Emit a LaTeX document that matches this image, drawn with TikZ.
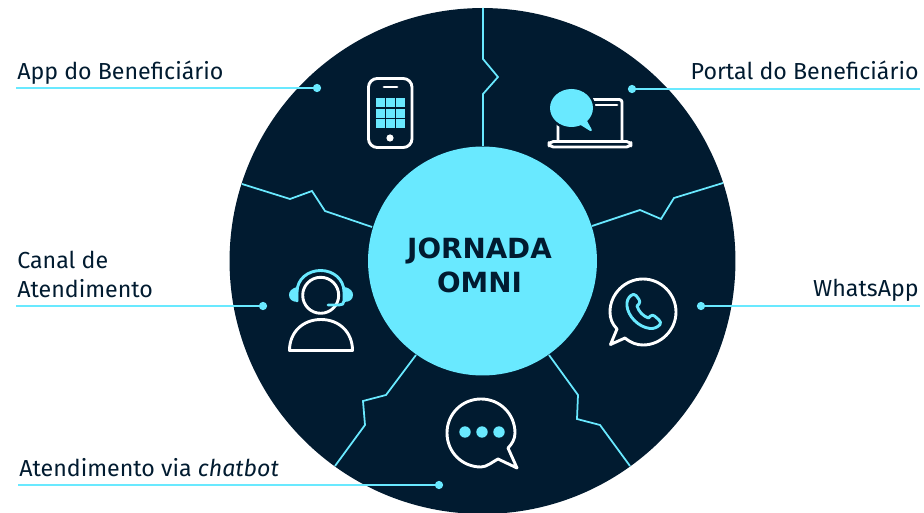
\documentclass[tikz,border=0pt]{standalone}
\usepackage{fontspec}
\setmainfont{Fira Sans}
\newfontfamily\hubfont{DejaVu Sans}
\definecolor{navy}{HTML}{011B30}
\definecolor{cyano}{HTML}{69E9FF}
\tikzset{
  seam/.style={draw=cyano, line width=1pt, line join=miter},
  leader/.style={draw=cyano, line width=1.05pt},
  dot/.style={circle, fill=cyano, inner sep=0pt, minimum size=4.7pt},
  tag/.style={font=\fontsize{13.2}{16.5}\selectfont, text=navy, inner sep=0pt, align=left},
  iconw/.style={draw=white, line width=1.65pt, line join=round, line cap=round},
  iconc/.style={draw=cyano, line width=1.65pt, line join=round, line cap=round},
}
\begin{document}
\begin{tikzpicture}[x=0.02cm, y=-0.02cm]
      \useasboundingbox (0,0) rectangle (924,513);

      % discs
      \node (disc) at (482.5,261) [circle, fill=navy, inner sep=0pt, minimum size=10.12cm] {};
      \node (hub) at (482.5,261) [circle, fill=cyano, inner sep=0pt, minimum size=4.58cm] {};
      \node (hubtext) at (479.5,265.5) [font=\hubfont\fontsize{15.8}{19.8}\selectfont\bfseries,
        text=navy, align=center, inner sep=0pt] {JORNADA\\OMNI};

      % seams
      \coordinate (t1) at (483,8);
      \coordinate (l1) at (242,184);
      \coordinate (r1) at (723,183);
      \coordinate (bl1) at (335,466);
      \coordinate (br1) at (630,466);
      \coordinate (t2) at (483,146);
      \coordinate (l2) at (372,227);
      \coordinate (r2) at (592,226);
      \coordinate (bl2) at (416,355);
      \coordinate (br2) at (549,355);
      \draw[seam] (t1) -- (483,59) -- (498,77) -- (483,94) -- (t2);
      \draw[seam] (l1) -- (290,199) -- (312,191) -- (325,211) -- (l2);
      \draw[seam] (r1) -- (674,198) -- (661,219) -- (640,210) -- (r2);
      \draw[seam] (bl1) -- (365,425) -- (363,401) -- (386,395) -- (bl2);
      \draw[seam] (br1) -- (600,425) -- (577,419) -- (578,395) -- (br2);

      % labels
      \node[tag, anchor=base west] (app) at (17,79.5) {App do Beneficiário};
      \node[tag, anchor=base east] (portal) at (919,79.5) {Portal do Beneficiário};
      \node[tag, anchor=base west] (canal) at (17,268.5) {Canal de};
      \node[tag, anchor=base west] (atend) at (17,297.5) {Atendimento};
      \node[tag, anchor=base east] (whats) at (919,297) {WhatsApp};
      \node[tag, anchor=base west] (bot) at (19,476.5) {Atendimento via \emph{chatbot}};

      % leaders
      \node[dot] (d1) at (317,88) {};
      \node[dot] (d2) at (632,89) {};
      \node[dot] (d3) at (263,306) {};
      \node[dot] (d4) at (701,306) {};
      \node[dot] (d5) at (439,485) {};
      \coordinate (e1) at (16,88);
      \coordinate (e2) at (920,89);
      \coordinate (e3) at (16,306);
      \coordinate (e4) at (920,306);
      \coordinate (e5) at (18,485);
      \draw[leader] (e1) -- (d1);
      \draw[leader] (e2) -- (d2);
      \draw[leader] (e3) -- (d3);
      \draw[leader] (e4) -- (d4);
      \draw[leader] (e5) -- (d5);

      % phone
      \draw[iconw, rounded corners=5pt] (368.5,78.5) rectangle (412,147.5);
      \draw[iconw] (384,87) -- (397,87);
      \foreach \x in {375.5,386,396} {
        \foreach \y in {98.5,109,119} {
          \fill[cyano] (\x,\y) rectangle +(9,8.8);
        }
      }
      \fill[white] (390,138) circle (3.6);

      % laptop
      \draw[iconw, rounded corners=1.5pt] (558,140) -- (558,99.5) -- (622,99.5) -- (622,140);
      \draw[iconw] (593,105) -- (617,105);
      \draw[iconw, rounded corners=2.5pt] (549,141.5) rectangle (631,147);
      \fill[navy] (571.5,108) ellipse (24 and 21.5);
      \fill[navy] (576,128) -- (587,117) -- (594,131) -- (592,134) -- cycle;
      \fill[cyano] (571.5,108) ellipse (21.5 and 19);
      \fill[cyano, rounded corners=.5pt] (579,124) -- (586,119) -- (592,130) -- (591,131.5) -- cycle;

      % headset
      \draw[iconw] (320.7,295.3) circle (18);
      \draw[iconw] (289.5,350.5) .. controls (289.5,332) and (303,319.5) .. (321,319.5)
        .. controls (339,319.5) and (352.5,332) .. (352.5,350.5) -- cycle;
      \draw[iconc] (297,301) -- (297,292) .. controls (297,279) and (308,270.5) .. (320.7,270.5)
        .. controls (333,270.5) and (344,279) .. (344,292) -- (344,301)
        .. controls (344,304) and (342,305) .. (339,305) -- (328,305);
      \fill[cyano] (298,287) .. controls (291,288) and (289,292) .. (289,295)
        .. controls (289,299) and (292,302) .. (298,302) -- cycle;
      \fill[cyano] (344,287) .. controls (351,288) and (353,292) .. (353,295)
        .. controls (353,299) and (350,302) .. (344,302) -- cycle;

      % whatsapp
      \draw[iconw] (625,338) .. controls (631,343) and (637,345) .. (643,345)
        .. controls (661,345) and (676,330) .. (676,312)
        .. controls (676,294) and (661,279) .. (643,279)
        .. controls (625,279) and (610,294) .. (610,312)
        .. controls (610,318) and (612,324) .. (617,329) -- (610.5,344.5) -- cycle;
      \draw[iconc] (631,295.5) .. controls (628,298) and (626.5,301) .. (627,306)
        .. controls (628,316) and (638,327) .. (650,328.5)
        .. controls (654,329) and (658,327) .. (660,324.5)
        .. controls (661,323) and (660.5,321.5) .. (659,320)
        -- (654.5,316) .. controls (653,315) and (652,315) .. (650.5,316)
        -- (648.5,318) .. controls (643,316) and (639,312) .. (637,306)
        -- (639,304) .. controls (640,302.5) and (640,301) .. (639,299.5)
        -- (636,295.5) .. controls (634.5,294) and (632.5,294) .. (631,295.5) -- cycle;

      % chat
      \draw[iconw] (498,459) .. controls (493,461.5) and (487,467) .. (481,467)
        .. controls (462,467) and (447,452) .. (447,433)
        .. controls (447,414) and (462,399) .. (481,399)
        .. controls (500,399) and (515,414) .. (515,433)
        .. controls (515,439) and (512,444) .. (508,448) -- (517,468) -- cycle;
      \foreach \x in {465,482,499} {
        \fill[cyano] (\x,432) circle (5.7);
      }

    \end{tikzpicture}
\end{document}
